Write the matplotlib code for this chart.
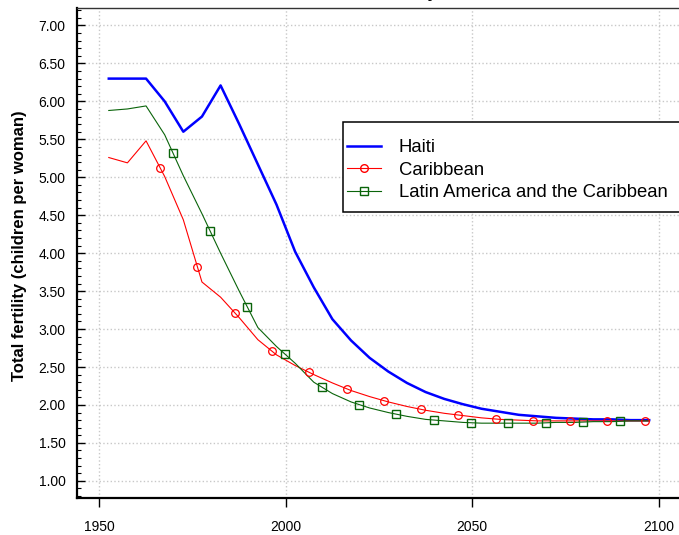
import numpy as np
import matplotlib
matplotlib.use("Agg")
import matplotlib.pyplot as plt
from matplotlib.lines import Line2D
from matplotlib.patches import Rectangle
from matplotlib.ticker import MultipleLocator, FormatStrFormatter

plt.rcParams['font.family'] = ['Liberation Sans', 'DejaVu Sans']

years = np.arange(1952.5, 2100, 5)

haiti = [6.30, 6.30, 6.30, 6.00, 5.60, 5.80, 6.21, 5.70, 5.17, 4.64,
         4.02, 3.55, 3.13, 2.85, 2.62, 2.44, 2.29, 2.17, 2.08, 2.01,
         1.95, 1.91, 1.87, 1.85, 1.83, 1.82, 1.81, 1.81, 1.80, 1.80]
caribbean = [5.26, 5.19, 5.48, 5.01, 4.44, 3.62, 3.42, 3.15, 2.86, 2.66,
             2.52, 2.40, 2.29, 2.19, 2.11, 2.04, 1.98, 1.93, 1.89, 1.86,
             1.83, 1.81, 1.80, 1.79, 1.79, 1.79, 1.79, 1.79, 1.79, 1.79]
latam = [5.88, 5.90, 5.94, 5.56, 5.02, 4.52, 4.00, 3.50, 3.02, 2.77,
         2.55, 2.30, 2.15, 2.04, 1.96, 1.90, 1.85, 1.81, 1.79, 1.77,
         1.76, 1.76, 1.76, 1.76, 1.77, 1.77, 1.78, 1.78, 1.79, 1.79]

labels = ["Haiti", "Caribbean", "Latin America and the Caribbean"]

fig = plt.figure(figsize=(6.79, 5.35), dpi=100)
ax = fig.add_axes([0.113, 0.0686, 0.887, 0.9164])

blue, red, green = '#0000ff', '#ff0000', '#0a640a'

ax.plot(years, haiti, color=blue, lw=1.8)
ax.plot(years, caribbean, color=red, lw=0.8)
ax.plot(years, latam, color=green, lw=0.8)

# markers sit along the line every 10 years, not on the data points
mk_car = np.arange(1966.3, years[-1], 10)
mk_lat = np.arange(1969.7, years[-1], 10)
ax.plot(mk_car, np.interp(mk_car, years, caribbean), 'o', ls='none',
        mfc='none', mec=red, ms=5.5, mew=0.9)
ax.plot(mk_lat, np.interp(mk_lat, years, latam), 's', ls='none',
        mfc='none', mec=green, ms=5.2, mew=1.0)

ax.set_xlim(1943.9, 2105.5)
ax.set_ylim(0.77, 7.23)

ax.xaxis.set_major_locator(MultipleLocator(50))
ax.yaxis.set_major_locator(MultipleLocator(0.5))
ax.yaxis.set_minor_locator(MultipleLocator(0.1))
ax.yaxis.set_major_formatter(FormatStrFormatter('%.2f'))

ax.tick_params(axis='y', which='major', direction='in', length=6, width=1,
               labelsize=10, pad=8)
ax.tick_params(axis='y', which='minor', direction='in', length=3, width=0.8)
ax.tick_params(axis='x', which='major', direction='out', length=6.5, width=1,
               labelsize=10, pad=9)

ax.grid(True, which='major', color='#c8c8c8', ls=':', lw=1)
ax.set_axisbelow(True)

ax.spines['right'].set_visible(False)
ax.spines['left'].set_linewidth(1.6)
ax.spines['bottom'].set_linewidth(1.6)
ax.spines['top'].set_linewidth(1.0)
ax.spines['top'].set_color('#333333')

ax.set_ylabel("Total fertility (children per woman)", fontsize=12,
              fontweight='bold')
ax.yaxis.set_label_coords(-0.083, 0.515)

# title sits above the canvas, only the descender shows
fig.text(0.567, 1 + 2 / 535, "Total Fertility", ha='center', va='baseline',
         fontsize=12, fontweight='bold')

# legend frame drawn by hand so the padding matches
fig.patches.append(Rectangle((343 / 679, 1 - 212 / 535), 0.6, 90 / 535,
                             transform=fig.transFigure, fill=True,
                             facecolor='white', edgecolor='black', lw=1.1,
                             zorder=5))
handles = [
    Line2D([], [], color=blue, lw=1.8),
    Line2D([], [], color=red, lw=0.8, marker='o', mfc='none', mec=red, ms=5.5),
    Line2D([], [], color=green, lw=0.8, marker='s', mfc='none', mec=green, ms=5.2),
]
leg = fig.legend(handles, labels, loc='upper left',
                 bbox_to_anchor=(347 / 679, 1 - 139 / 535),
                 bbox_transform=fig.transFigure, borderaxespad=0,
                 fontsize=13.3, labelspacing=0.3, borderpad=0,
                 handlelength=1.85, handletextpad=0.95, frameon=False)
leg.set_zorder(6)

fig.savefig("out.png", dpi=100)
